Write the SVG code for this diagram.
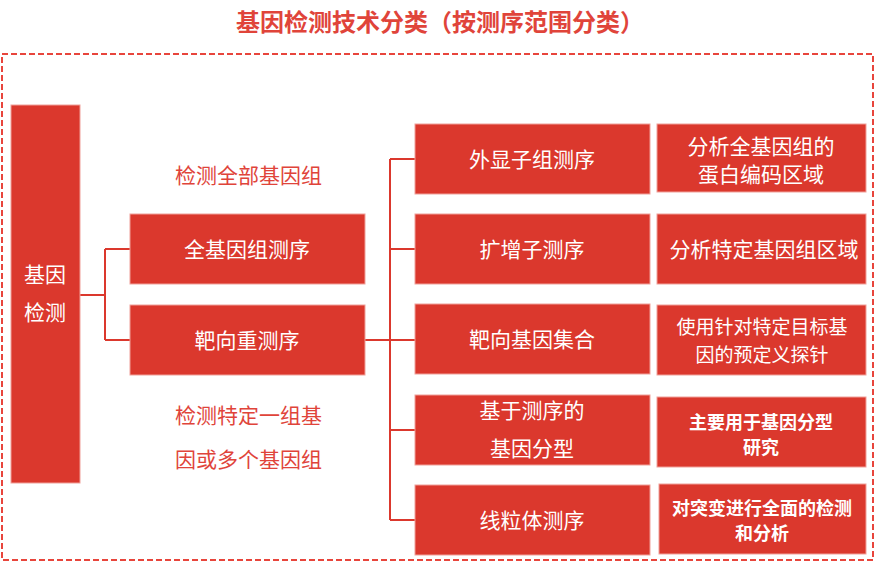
<svg xmlns="http://www.w3.org/2000/svg" width="880" height="564" viewBox="0 0 880 564">
<style>
.n{fill:#DB382D;stroke:#F0A09A;stroke-width:1}
.t{fill:#fff;font-family:"Noto Sans CJK SC",sans-serif;font-size:21px;text-anchor:middle}
.s{font-size:19px}
.b{font-weight:bold;font-size:18px}
.l{fill:#E0443A;font-family:"Noto Sans CJK SC",sans-serif;font-size:21px}
.c{fill:none;stroke:#DB382D;stroke-width:2}
</style>
<rect width="880" height="564" fill="#fff"/>
<text x="440" y="31" text-anchor="middle" font-family="Noto Sans CJK SC,sans-serif" font-size="24" font-weight="bold" fill="#E0443A">基因检测技术分类（按测序范围分类）</text>
<rect x="2" y="54" width="871" height="506" fill="none" stroke="#E8453C" stroke-width="2" stroke-dasharray="6,3"/>
<g id="connectors">
<path class="c" d="M80 295H105M105 249V340M105 249H130M105 340H130"/>
<path class="c" d="M365 340H390M390 159V520M390 159H415M390 249H415M390 340H415M390 430H415M390 520H415"/>
</g>
<text class="l" x="175" y="183">检测全部基因组</text>
<text class="l" x="175" y="423">检测特定一组基</text>
<text class="l" x="175" y="467">因或多个基因组</text>
<g id="root"><rect class="n" x="11" y="105" width="69" height="378"/><text class="t" x="45" y="282">基因</text><text class="t" x="45" y="320">检测</text></g>
<g id="wgs"><rect class="n" x="130" y="214" width="235" height="70"/><text class="t" x="247" y="257">全基因组测序</text></g>
<g id="tgt"><rect class="n" x="130" y="305" width="235" height="70"/><text class="t" x="247" y="348">靶向重测序</text></g>
<g id="c1"><rect class="n" x="415" y="124" width="235" height="70"/><text class="t" x="532" y="167">外显子组测序</text></g>
<g id="c2"><rect class="n" x="415" y="214" width="235" height="70"/><text class="t" x="532" y="257">扩增子测序</text></g>
<g id="c3"><rect class="n" x="415" y="304" width="235" height="70"/><text class="t" x="532" y="347">靶向基因集合</text></g>
<g id="c4"><rect class="n" x="415" y="395" width="235" height="70"/><text class="t" x="532" y="418">基于测序的</text><text class="t" x="532" y="456">基因分型</text></g>
<g id="c5"><rect class="n" x="415" y="485" width="235" height="70"/><text class="t" x="532" y="528">线粒体测序</text></g>
<g id="d1"><rect class="n" x="657" y="124" width="209" height="68"/><text class="t" x="761" y="154">分析全基因组的</text><text class="t" x="761" y="182">蛋白编码区域</text></g>
<g id="d2"><rect class="n" x="657" y="214" width="209" height="70"/><text class="t" x="764" y="257">分析特定基因组区域</text></g>
<g id="d3"><rect class="n" x="657" y="305" width="209" height="70"/><text class="t s" x="762" y="334">使用针对特定目标基</text><text class="t s" x="762" y="362">因的预定义探针</text></g>
<g id="d4"><rect class="n" x="657" y="397" width="209" height="70"/><text class="t b" x="761" y="429">主要用于基因分型</text><text class="t b" x="761" y="454">研究</text></g>
<g id="d5"><rect class="n" x="659" y="484" width="207" height="70"/><text class="t b" x="762" y="515">对突变进行全面的检测</text><text class="t b" x="762" y="540">和分析</text></g>
</svg>
